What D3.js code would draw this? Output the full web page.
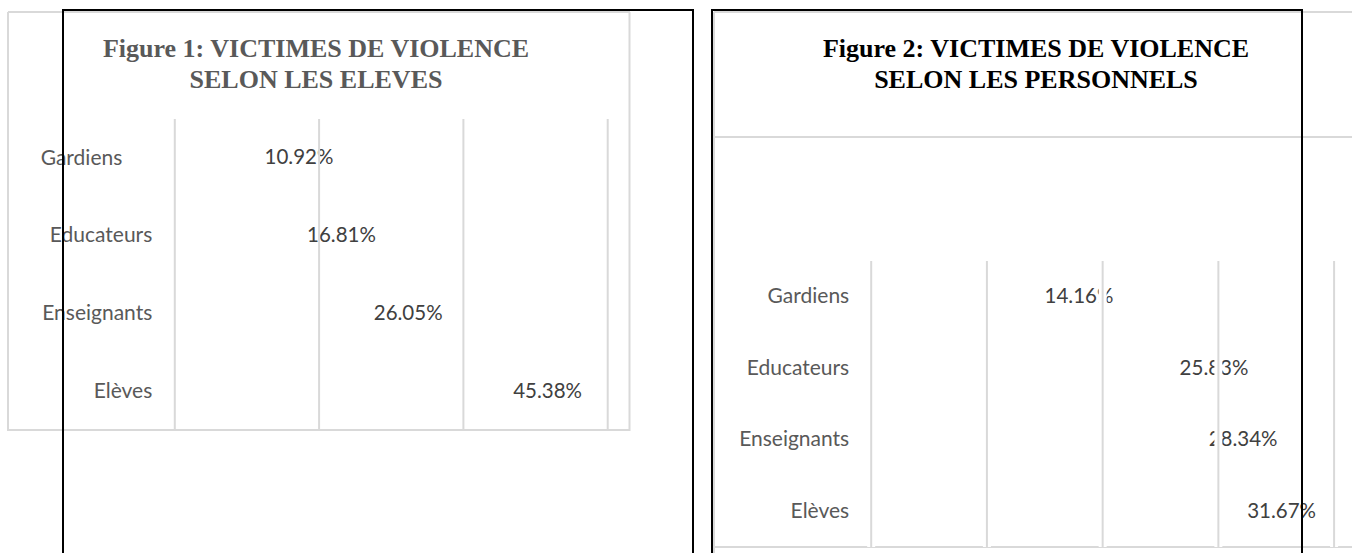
<!DOCTYPE html>
<meta charset="utf-8">
<style>

  body { margin: 0; background: #fff; }

  .title {
    font-family: "Liberation Serif", "Times New Roman", serif;
    font-weight: bold;
    font-size: 26px;
    text-anchor: middle;
  }

  .cats text {
    font-family: Lato, "Liberation Sans", sans-serif;
    font-size: 21px;
    fill: #595959;
  }

  .vals text {
    font-family: Lato, "Liberation Sans", sans-serif;
    font-size: 20.5px;
    fill: #404040;
  }

  .grid line { stroke: #d9d9d9; stroke-width: 2px; }
  .mask line { stroke: #fff; stroke-width: 8px; }

  .box line { stroke: #d9d9d9; stroke-width: 2px; }
  .frame line { stroke: #000; stroke-width: 2px; }

</style>
<svg width="1352" height="553"></svg>
<script src="https://d3js.org/d3.v7.min.js"></script>
<script>

    var categories = ["Gardiens", "Educateurs", "Enseignants", "Elèves"];

    // figure 1 : selon les eleves
    var valEleves = [0.1092, 0.1681, 0.2605, 0.4538];
    var ticksEleves = [0, 0.2, 0.4, 0.6];
    var titreEleves = ["Figure 1: VICTIMES DE VIOLENCE", "SELON LES ELEVES"];

    // figure 2 : selon les personnels
    var valPersonnels = [0.1416, 0.2583, 0.2834, 0.3167];
    var ticksPersonnels = [0, 0.1, 0.2, 0.3, 0.4];
    var titrePersonnels = ["Figure 2: VICTIMES DE VIOLENCE", "SELON LES PERSONNELS"];

    var svg = d3.select("svg");
    var fmt = d3.format(".2%");

    function drawChart(cfg) {
        var g = svg.append("g");

        var x = d3.scaleLinear()
            .domain([0, d3.max(cfg.ticks)])
            .range([cfg.left, cfg.right]);

        var y = d3.scaleBand()
            .domain(categories)
            .range([cfg.top, cfg.bottom]);

        // contour gris de la zone du graphique
        g.append("g").attr("class", "box")
          .selectAll("line")
          .data(cfg.box)
          .enter().append("line")
          .attr("x1", function(d) { return d[0]; })
          .attr("y1", function(d) { return d[1]; })
          .attr("x2", function(d) { return d[2]; })
          .attr("y2", function(d) { return d[3]; });

        // titre
        g.append("text")
          .attr("class", "title")
          .attr("x", cfg.titleX)
          .attr("y", 57)
          .attr("fill", cfg.titleColor)
          .selectAll("tspan")
          .data(cfg.title)
          .enter().append("tspan")
          .attr("x", cfg.titleX)
          .attr("dy", function(d, i) { return i ? 30.5 : 0; })
          .text(function(d) { return d; });

        // barres (invisibles sur l'original)
        g.append("g")
          .selectAll("rect")
          .data(cfg.values)
          .enter().append("rect")
          .attr("x", x(0))
          .attr("y", function(d, i) { return y(categories[i]) + y.bandwidth() * 0.25; })
          .attr("width", function(d) { return x(d) - x(0); })
          .attr("height", y.bandwidth() * 0.5)
          .attr("fill", "none");

        // etiquettes des categories
        var axeY = d3.axisLeft(y).tickSize(0).tickPadding(cfg.pad);
        var cats = g.append("g")
          .attr("class", "cats")
          .attr("transform", "translate(" + x(0) + ",0)")
          .call(axeY)
          .call(function(s) { s.select(".domain").remove(); });
        cats.attr("font-family", null).attr("font-size", null);

        // decalage du premier libelle (figure 1)
        if (cfg.shiftFirst) {
            cats.selectAll(".tick text")
              .filter(function(d, i) { return i === 0; })
              .attr("dx", cfg.shiftFirst);
        }

        // etiquettes de valeurs
        g.append("g")
          .attr("class", "vals")
          .selectAll("text")
          .data(cfg.values)
          .enter().append("text")
          .attr("x", function(d) { return x(d) + cfg.labelPad; })
          .attr("y", function(d, i) { return y(categories[i]) + y.bandwidth() / 2; })
          .attr("dy", "0.32em")
          .text(function(d) { return fmt(d); });

        // quadrillage vertical
        var axeX = d3.axisBottom(x)
            .tickValues(cfg.ticks)
            .tickSize(-(cfg.bottom - cfg.top))
            .tickFormat("");

        if (cfg.mask) {
            g.append("g")
              .attr("class", "mask")
              .attr("transform", "translate(0," + cfg.bottom + ")")
              .call(axeX)
              .call(function(s) { s.select(".domain").remove(); })
              .selectAll("line").attr("stroke", null);
        }

        g.append("g")
          .attr("class", "grid")
          .attr("transform", "translate(0," + cfg.bottom + ")")
          .call(axeX)
          .call(function(s) { s.select(".domain").remove(); })
          .selectAll("line").attr("stroke", null);

        return g;
    }

    drawChart({
        values: valEleves, ticks: ticksEleves, title: titreEleves,
        titleX: 316, titleColor: "#595959",
        left: 174.3, right: 607.2, top: 119, bottom: 430,
        pad: 22, labelPad: 11.5, mask: false, shiftFirst: -30,
        box: [[8, 12, 630, 12], [8, 12, 8, 431], [8, 430, 630, 430], [629.5, 12, 629.5, 431]]
    });

    drawChart({
        values: valPersonnels, ticks: ticksPersonnels, title: titrePersonnels,
        titleX: 1036, titleColor: "#000",
        left: 870.7, right: 1333.6, top: 261, bottom: 547,
        pad: 21.5, labelPad: 10, mask: true,
        box: [[714, 12, 1352, 12], [714, 12, 714, 553], [714, 137, 1352, 137], [714, 547, 1352, 547]]
    });

    // traits noirs du cadre de la page, par dessus
    var cadre = [
        [63, 10, 693, 10], [63, 9, 63, 553], [693, 9, 693, 553],
        [712, 10, 1302, 10], [712, 9, 712, 553], [1302, 9, 1302, 553]
    ];

    svg.append("g").attr("class", "frame")
      .selectAll("line")
      .data(cadre)
      .enter().append("line")
      .attr("x1", function(d) { return d[0]; })
      .attr("y1", function(d) { return d[1]; })
      .attr("x2", function(d) { return d[2]; })
      .attr("y2", function(d) { return d[3]; });

</script>
